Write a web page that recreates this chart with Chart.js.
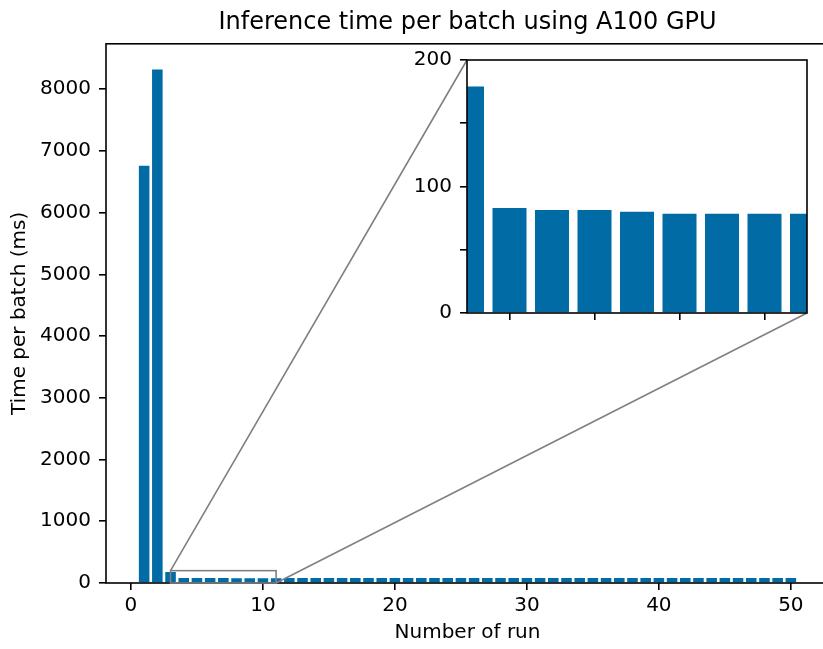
<!DOCTYPE html>
<html>
<head>
<meta charset="utf-8">
<script src="https://cdn.jsdelivr.net/npm/chart.js@4.4.0/dist/chart.umd.min.js"></script>
<style>
  html, body { margin: 0; padding: 0; background: #fff; overflow: hidden; }
  #wrap { position: relative; width: 823px; height: 649px; overflow: hidden; }
  #mainChart { position: absolute; left: 0; top: 0; }
  #insetChart { position: absolute; left: 400px; top: 48px; }
</style>
</head>
<body>
<div id="wrap">
  <canvas id="mainChart" width="840" height="649"></canvas>
  <canvas id="insetChart" width="420" height="280"></canvas>
</div>
<script>
// run number -> inference time per batch (ms)
const runs = [
  1, 2, 3, 4, 5, 6, 7, 8, 9, 10,
  11, 12, 13, 14, 15, 16, 17, 18, 19, 20,
  21, 22, 23, 24, 25, 26, 27, 28, 29, 30,
  31, 32, 33, 34, 35, 36, 37, 38, 39, 40,
  41, 42, 43, 44, 45, 46, 47, 48, 49, 50
];
const times = [
  6760, 8320, 179, 83, 81.5, 81.5, 80, 78.5, 78.5, 78.5,
  78.5, 79, 79, 79, 79, 79, 79, 79, 79, 79,
  79, 79, 79, 79, 79, 79, 79, 79, 79, 79,
  79, 79, 79, 79, 79, 79, 79, 79, 79, 79,
  79, 79, 79, 79, 79, 79, 79, 79, 79, 79
];

const mainXTicks = [0, 10, 20, 30, 40, 50];
const mainYTicks = [0, 1000, 2000, 3000, 4000, 5000, 6000, 7000, 8000];
const insetXTicks = [4, 6, 8, 10];
const insetYTicks = [0, 50, 100, 150, 200];
const insetYLabels = ['0', '', '100', '', '200'];

// zoomed region shown in the inset
const zoomX = [3, 11];
const zoomY = [0, 200];

const BAR_COLOR = '#006BA4';
const FONT = 'DejaVu Sans';

Chart.defaults.color = '#000';
Chart.defaults.font.family = FONT;
Chart.defaults.font.size = 20;

const points = runs.map((r, i) => ({ x: r, y: times[i] }));

// matplotlib-style 5% data margins on x
const xLo = runs[0] - 0.4, xHi = runs[runs.length - 1] + 0.4;
const xPad = (xHi - xLo) * 0.05;

const tickGrid = {
  display: true,
  offset: false,
  drawOnChartArea: false,
  drawTicks: true,
  tickLength: 7,
  color: '#000',
  lineWidth: 1.6
};

// keep tick labels from pushing the plot area around
const noPadX = s => { s.paddingLeft = 0; s.paddingRight = 0; };
const noPadY = s => { s.paddingTop = 0; s.paddingBottom = 0; };

// white axes face + black spines
const framePlugin = {
  id: 'frame',
  beforeDraw(chart) {
    const a = chart.chartArea;
    const ctx = chart.ctx;
    ctx.save();
    ctx.fillStyle = '#fff';
    ctx.fillRect(a.left, a.top, a.right - a.left, a.bottom - a.top);
    ctx.restore();
  },
  afterDatasetsDraw(chart) {
    const a = chart.chartArea;
    const ctx = chart.ctx;
    ctx.save();
    ctx.strokeStyle = '#000';
    ctx.lineWidth = 1.6;
    ctx.strokeRect(a.left, a.top, a.right - a.left, a.bottom - a.top);
    ctx.restore();
  }
};

const barDataset = {
  data: points,
  backgroundColor: BAR_COLOR,
  borderWidth: 0,
  barPercentage: 0.8,
  categoryPercentage: 1.0
};

// ---- inset ----
const insetCanvas = document.getElementById('insetChart');
const insetChart = new Chart(insetCanvas.getContext('2d'), {
  type: 'bar',
  data: { datasets: [{ ...barDataset }] },
  options: {
    responsive: false,
    animation: false,
    devicePixelRatio: 1,
    layout: { padding: { left: 0, right: 13, top: 12, bottom: 0 } },
    plugins: { legend: { display: false }, tooltip: { enabled: false } },
    scales: {
      x: {
        type: 'linear',
        min: zoomX[0],
        max: zoomX[1],
        offset: false,
        border: { display: false },
        grid: tickGrid,
        afterBuildTicks: s => { s.ticks = insetXTicks.map(v => ({ value: v })); },
        ticks: { callback: () => '' },
        afterFit: s => { s.height = 15; noPadX(s); }
      },
      y: {
        min: zoomY[0],
        max: zoomY[1],
        border: { display: false },
        grid: tickGrid,
        afterBuildTicks: s => { s.ticks = insetYTicks.map(v => ({ value: v })); },
        ticks: { padding: 8, callback: (v, i) => insetYLabels[i] },
        afterFit: s => { s.width = 67; noPadY(s); }
      }
    }
  },
  plugins: [framePlugin]
});

// zoom rectangle on the main axes plus the two connector lines to the inset
const zoomMarkPlugin = {
  id: 'zoomMark',
  afterDraw(chart) {
    const { x, y } = chart.scales;
    const ctx = chart.ctx;
    const x0 = x.getPixelForValue(zoomX[0]);
    const x1 = x.getPixelForValue(zoomX[1]);
    const y0 = y.getPixelForValue(zoomY[0]);
    const y1 = y.getPixelForValue(zoomY[1]);
    const ia = insetChart.chartArea;
    const ox = insetCanvas.offsetLeft;
    const oy = insetCanvas.offsetTop;

    ctx.save();
    ctx.strokeStyle = '#808080';
    ctx.lineWidth = 1.6;
    ctx.strokeRect(x0, y1, x1 - x0, y0 - y1);
    ctx.beginPath();
    ctx.moveTo(x0, y1);
    ctx.lineTo(ox + ia.left, oy + ia.top);
    ctx.moveTo(x1, y0);
    ctx.lineTo(ox + ia.right, oy + ia.bottom);
    ctx.stroke();
    ctx.restore();
  }
};

// ---- main axes ----
const mainChart = new Chart(document.getElementById('mainChart').getContext('2d'), {
  type: 'bar',
  data: { datasets: [{ ...barDataset }] },
  options: {
    responsive: false,
    animation: false,
    devicePixelRatio: 1,
    layout: { padding: { left: 0, right: 11, top: 0, bottom: 0 } },
    plugins: {
      legend: { display: false },
      tooltip: { enabled: false },
      title: {
        display: true,
        fullSize: false,
        text: 'Inference time per batch using A100 GPU',
        color: '#000',
        font: { family: FONT, size: 24, weight: 'normal' },
        padding: { top: 8, bottom: 7 }
      }
    },
    scales: {
      x: {
        type: 'linear',
        min: xLo - xPad,
        max: xHi + xPad,
        offset: false,
        border: { display: false },
        grid: tickGrid,
        afterBuildTicks: s => { s.ticks = mainXTicks.map(v => ({ value: v })); },
        ticks: { padding: 4, maxRotation: 0, callback: v => String(v) },
        title: { display: true, text: 'Number of run', padding: { top: 0, bottom: 4 } },
        afterFit: s => { s.height = 66; noPadX(s); }
      },
      y: {
        min: 0,
        max: Math.max(...times) * 1.05,
        border: { display: false },
        grid: tickGrid,
        afterBuildTicks: s => { s.ticks = mainYTicks.map(v => ({ value: v })); },
        ticks: { padding: 8, callback: v => String(v) },
        title: { display: true, text: 'Time per batch (ms)', padding: { top: 8, bottom: 0 } },
        afterFit: s => { s.width = 106; noPadY(s); }
      }
    }
  },
  plugins: [framePlugin, zoomMarkPlugin]
});
</script>
</body>
</html>
